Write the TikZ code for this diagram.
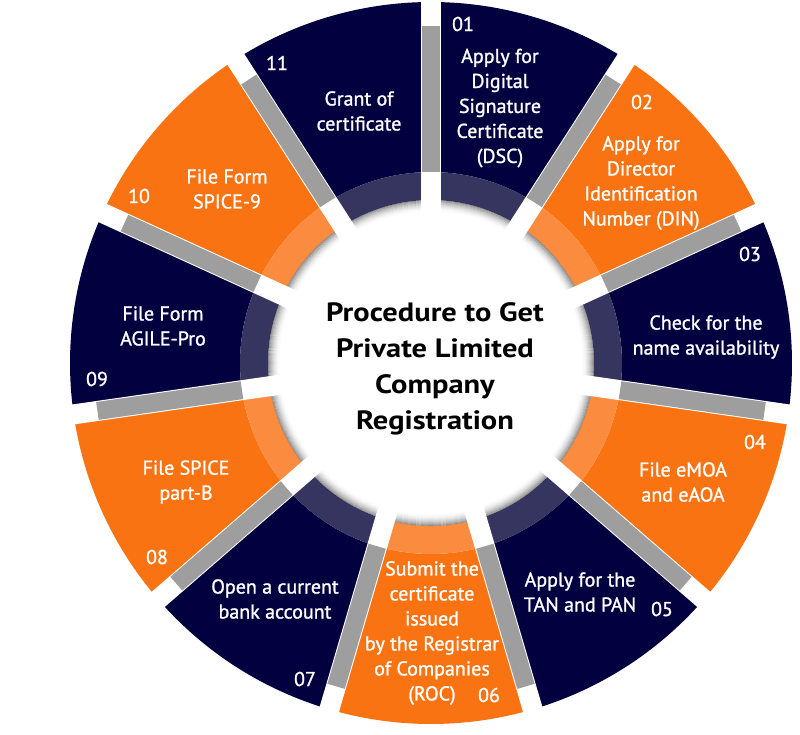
\documentclass[tikz,border=0pt]{standalone}
\usepackage{fontspec}
\setmainfont{PT Sans}
\newfontfamily\segfont[FakeBold=1.2]{PT Sans}
\newfontfamily\titlefont[FakeStretch=1.15]{PT Sans}
\definecolor{navy}{HTML}{030040}
\definecolor{navyl}{HTML}{36355F}
\definecolor{orng}{HTML}{F97313}
\definecolor{orngl}{HTML}{FB8B3E}
\definecolor{gapgray}{HTML}{9E9E9E}
\begin{document}
\begin{tikzpicture}[x=1pt,y=-1pt,
  seg/.style={text=white, align=center, inner sep=0pt, font=\segfont\fontsize{20}{25}\selectfont},
  num/.style={text=white, inner sep=0pt, font=\segfont\fontsize{20}{24}\selectfont},
  title/.style={text=black, align=center, inner sep=0pt, font=\titlefont\fontsize{26.5}{36}\selectfont\bfseries}]
\useasboundingbox (0,0) rectangle (800,734);
\fill[white] (0,0) rectangle (800,734);
\begin{scope}[shift={(431,363)}, yscale=-1]
  \foreach \i/\c/\l in {1/navy/navyl,2/orng/orngl,3/navy/navyl,4/orng/orngl,5/navy/navyl,6/orng/orngl,7/navy/navyl,8/orng/orngl,9/navy/navyl,10/orng/orngl,11/navy/navyl}{
    \pgfmathsetmacro\aone{90-\i*360/11}
    \pgfmathsetmacro\atwo{90-(\i-1)*360/11}
    \fill[\c] (\aone:361) arc[start angle=\aone, end angle=\atwo, radius=361]
      -- (\atwo:191) arc[start angle=\atwo, end angle=\aone, radius=191] -- cycle;
    \fill[\l] (\aone:191) arc[start angle=\aone, end angle=\atwo, radius=191]
      -- (\atwo:163) arc[start angle=\atwo, end angle=\aone, radius=163] -- cycle;
  }
  \foreach \j in {0,...,11}{
    \pgfmathsetmacro\op{0.38*(1-\j/12)^2}
    \draw[black, opacity=\op, line width=1.05pt] (0,0) circle[radius=162.5-\j];
  }
  \foreach \k in {0,...,10}{
    \pgfmathsetmacro\b{90-\k*360/11}
    \draw[white, line width=20pt] (\b:140) -- (\b:400);
    \draw[gapgray, line width=18pt] (\b:191) -- (\b:337);
  }
\end{scope}
\node[title] (title) at (435,369) {Procedure to Get\\Private Limited\\Company\\Registration};
\node[seg] (t1) at (500,108) {Apply for\\Digital\\Signature\\Certificate\\(DSC)};
\node[seg] (t2) at (641,183) {Apply for\\Director\\Identification\\Number (DIN)};
\node[seg] (t3) at (706,337) {Check for the\\name availability};
\node[seg] (t4) at (683,482) {File eMOA\\and eAOA};
\node[seg] (t5) at (580,592) {Apply for the\\TAN and PAN};
\node[seg] (t6) at (432,633) {Submit the\\certificate\\issued\\by the Registrar\\of Companies\\(ROC)};
\node[seg] (t7) at (275,599) {Open a current\\bank account};
\node[seg] (t8) at (186,482) {File SPICE\\part-B};
\node[seg] (t9) at (163,326) {File Form\\AGILE-Pro};
\node[seg] (t10) at (227,189) {File Form\\SPICE-9};
\node[seg] (t11) at (359,111) {Grant of\\certificate};
\node[num] (n1) at (463,24) {01};
\node[num] (n2) at (642,102) {02};
\node[num] (n3) at (750,254) {03};
\node[num] (n4) at (755,442) {04};
\node[num] (n5) at (662,609) {05};
\node[num] (n6) at (489,695) {06};
\node[num] (n7) at (305,679) {07};
\node[num] (n8) at (157,557) {08};
\node[num] (n9) at (97,379) {09};
\node[num] (n10) at (139,196) {10};
\node[num] (n11) at (277,63) {11};
\end{tikzpicture}
\end{document}
